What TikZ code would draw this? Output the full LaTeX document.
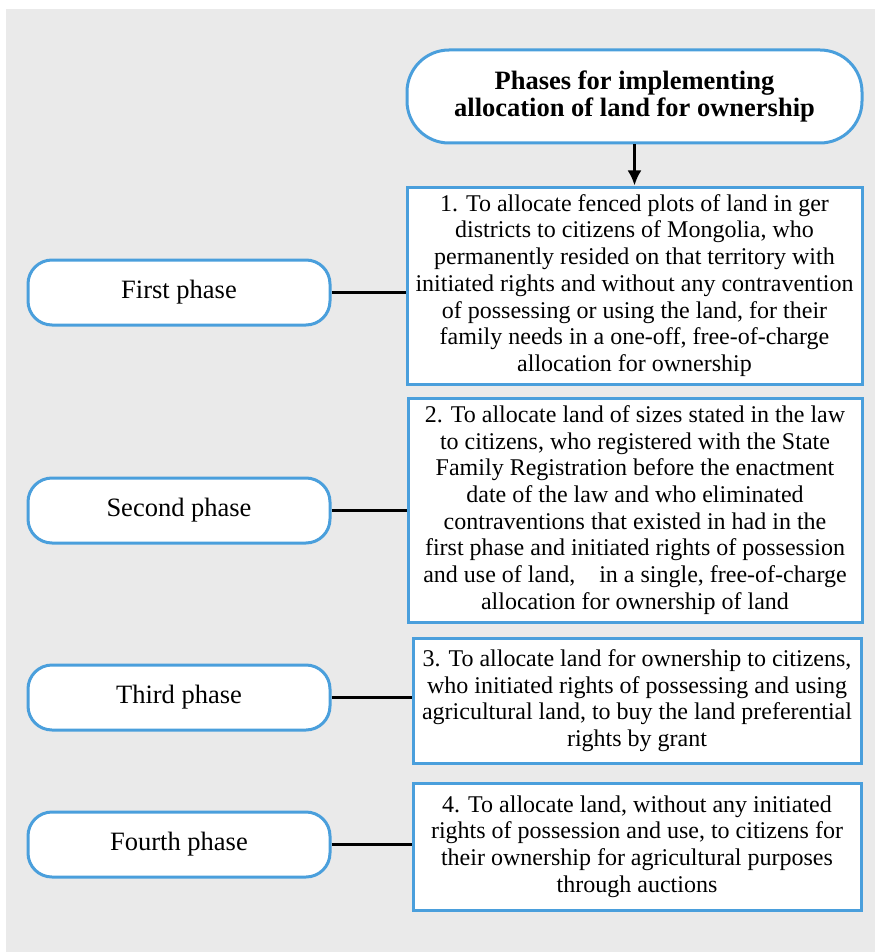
\documentclass[tikz,border=0pt]{standalone}
\usepackage{fontspec}
\setmainfont{Liberation Serif}
\usetikzlibrary{arrows.meta}
\definecolor{boxblue}{HTML}{4A9FDC}
\definecolor{paper}{HTML}{EAEAEA}

\begin{document}
\begin{tikzpicture}[x=1pt,y=-1pt,
	titlebox/.style={draw=boxblue,line width=3pt,fill=white,rounded corners=42pt,minimum width=455pt,minimum height=93pt,inner sep=0pt,align=center,font=\bfseries\fontsize{26.5}{27}\selectfont},
	phasebox/.style={draw=boxblue,line width=3pt,fill=white,rounded corners=24pt,minimum width=302pt,minimum height=65pt,inner sep=0pt,font=\fontsize{26.5}{28}\selectfont},
	stepbox/.style={draw=boxblue,line width=3pt,fill=white,inner sep=0pt,align=center,font=\fontsize{24}{26.7}\selectfont},
	link/.style={line width=2.8pt,black}]
\useasboundingbox (0,0) rectangle (875,952);
\fill[paper] (6,9) rectangle (875,952);
% Heading
\node[titlebox] (title) at (634.5,96.5) {Phases for implementing\\allocation of land for ownership};
% First phase
\node[phasebox] (p1) at (179,292.5) {First phase};
\node[stepbox,minimum width=455pt,minimum height=197pt] (s1) at (634.5,285.5) {1. To allocate fenced plots of land in ger\\districts to citizens of Mongolia, who\\permanently resided on that territory with\\initiated rights and without any contravention\\of possessing or using the land, for their\\family needs in a one-off, free-of-charge\\allocation for ownership};
\draw[link,-{Latex[length=15pt,width=14pt]}] (title.south) -- (s1.north);
\draw[link] (p1.east) -- (p1.east -| s1.west);
% Second phase
\node[phasebox] (p2) at (179,510.5) {Second phase};
\node[stepbox,minimum width=454pt,minimum height=224pt] (s2) at (635,510) {2. To allocate land of sizes stated in the law\\to citizens, who registered with the State\\Family Registration before the enactment\\date of the law and who eliminated\\contraventions that existed in had in the\\first phase and initiated rights of possession\\and use of land,\ \ \ \ in a single, free-of-charge\\allocation for ownership of land};
\draw[link] (p2.east) -- (p2.east -| s2.west);
% Third phase
\node[phasebox] (p3) at (179,697.5) {Third phase};
\node[stepbox,minimum width=448pt,minimum height=125pt] (s3) at (637,700.5) {3. To allocate land for ownership to citizens,\\who initiated rights of possessing and using\\agricultural land, to buy the land preferential\\rights by grant};
\draw[link] (p3.east) -- (p3.east -| s3.west);
% Fourth phase
\node[phasebox] (p4) at (179,844.5) {Fourth phase};
\node[stepbox,minimum width=448pt,minimum height=127pt] (s4) at (637,846.5) {4. To allocate land, without any initiated\\rights of possession and use, to citizens for\\their ownership for agricultural purposes\\through auctions};
\draw[link] (p4.east) -- (p4.east -| s4.west);
\end{tikzpicture}
\end{document}
